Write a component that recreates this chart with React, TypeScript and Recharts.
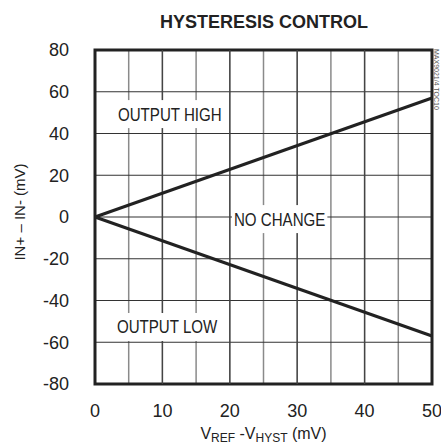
import React from "react";
import { LineChart, Line, XAxis, YAxis, CartesianGrid, ReferenceLine, ReferenceArea, ReferenceDot } from "recharts";

const FONT = "'Liberation Sans', Arial, sans-serif";

const xValues = [0, 50];
const highBoundary = [0, 57];
const lowBoundary = [0, -57];
const xTicks = [0, 5, 10, 15, 20, 25, 30, 35, 40, 45, 50];
const xMajor = [10, 20, 30, 40];
const yTicks = [-80, -60, -40, -20, 0, 20, 40, 60, 80];
const regionLabels = [
  { text: "OUTPUT HIGH", x: 11.1, y: 49.3 },
  { text: "NO CHANGE", x: 27.4, y: -1 },
  { text: "OUTPUT LOW", x: 10.7, y: -52.7 },
];
const title = "HYSTERESIS CONTROL";
const yLabel = "IN+ \u2013 IN- (mV)";
const sideNote = "MAX9021/4 TOC10";

const data = xValues.map((x, i) => ({ x, high: highBoundary[i], low: lowBoundary[i] }));

const BoxLabel = (props: any) => {
  const { cx, cy, text } = props;
  const w = text.length * 8.6 + 18;
  return (
    <g>
      <rect x={cx - w / 2} y={cy - 14} width={w} height={28} fill="#fff" />
      <text
        transform={`translate(${cx},${cy}) scale(0.84,1)`}
        dy="0.36em"
        textAnchor="middle"
        fontFamily={FONT}
        fontSize={18}
        fill="#222"
      >
        {text}
      </text>
    </g>
  );
};

export default function App() {
  return (
    <div style={{ position: "absolute", left: 0, top: 0, width: 441, height: 448, background: "#fff" }}>
      <LineChart width={441} height={448} data={data} margin={{ top: 50, right: 9, left: 0, bottom: 0 }}>
        <CartesianGrid horizontal={false} stroke="#8a8a8a" strokeWidth={1.5} />
        <CartesianGrid vertical={false} stroke="#333" strokeWidth={1.2} />
        {xMajor.map((v) => (
          <ReferenceLine key={v} x={v} stroke="#444" strokeWidth={1.3} />
        ))}
        <XAxis
          type="number"
          dataKey="x"
          domain={[0, 50]}
          ticks={xTicks}
          interval={0}
          tickFormatter={(v: number) => (v % 10 === 0 ? String(v) : "")}
          axisLine={false}
          tickLine={false}
          tickSize={0}
          tickMargin={20}
          height={64}
          tick={{ fontFamily: FONT, fontSize: 18, fill: "#222" }}
          label={{
            content: (p: any) => {
              const vb = p.viewBox;
              const cx = vb.x + vb.width / 2;
              return (
                <text x={cx} y={439} textAnchor="middle" fontFamily={FONT} fontSize={16} fill="#222">
                  V<tspan fontSize={12} dy={3}>REF</tspan>
                  <tspan dy={-3}> -V</tspan>
                  <tspan fontSize={12} dy={3}>HYST</tspan>
                  <tspan dy={-3}> (mV)</tspan>
                </text>
              );
            },
          }}
        />
        <YAxis
          type="number"
          domain={[-80, 80]}
          ticks={yTicks}
          interval={0}
          axisLine={false}
          tickLine={false}
          tickSize={0}
          tickMargin={26}
          width={95}
          tick={{ fontFamily: FONT, fontSize: 18, fill: "#222" }}
          label={{
            content: () => {
              const cy = 212;
              return (
                <text x={20} y={cy} transform={`rotate(-90, 20, ${cy})`} textAnchor="middle" dy="0.36em" fontFamily={FONT} fontSize={15} fill="#222">
                  {yLabel}
                </text>
              );
            },
          }}
        />
        <Line type="linear" dataKey="high" stroke="#222" strokeWidth={3} dot={false} isAnimationActive={false} />
        <Line type="linear" dataKey="low" stroke="#222" strokeWidth={3} dot={false} isAnimationActive={false} />
        {regionLabels.map((l) => (
          <ReferenceDot key={l.text} x={l.x} y={l.y} r={0} shape={(p: any) => <BoxLabel {...p} text={l.text} />} />
        ))}
        <ReferenceArea x1={0} x2={50} y1={-80} y2={80} fill="none" fillOpacity={0} stroke="#222" strokeWidth={3} ifOverflow="visible" />
      </LineChart>
      <svg width={441} height={448} style={{ position: "absolute", left: 0, top: 0, pointerEvents: "none" }}>
        <text x={264} y={28} textAnchor="middle" fontFamily={FONT} fontSize={18} fontWeight="bold" fill="#222">
          {title}
        </text>
        <text x={434} y={49} transform="rotate(90, 434, 49)" fontFamily={FONT} fontSize={7} fill="#555">
          {sideNote}
        </text>
      </svg>
    </div>
  );
}
